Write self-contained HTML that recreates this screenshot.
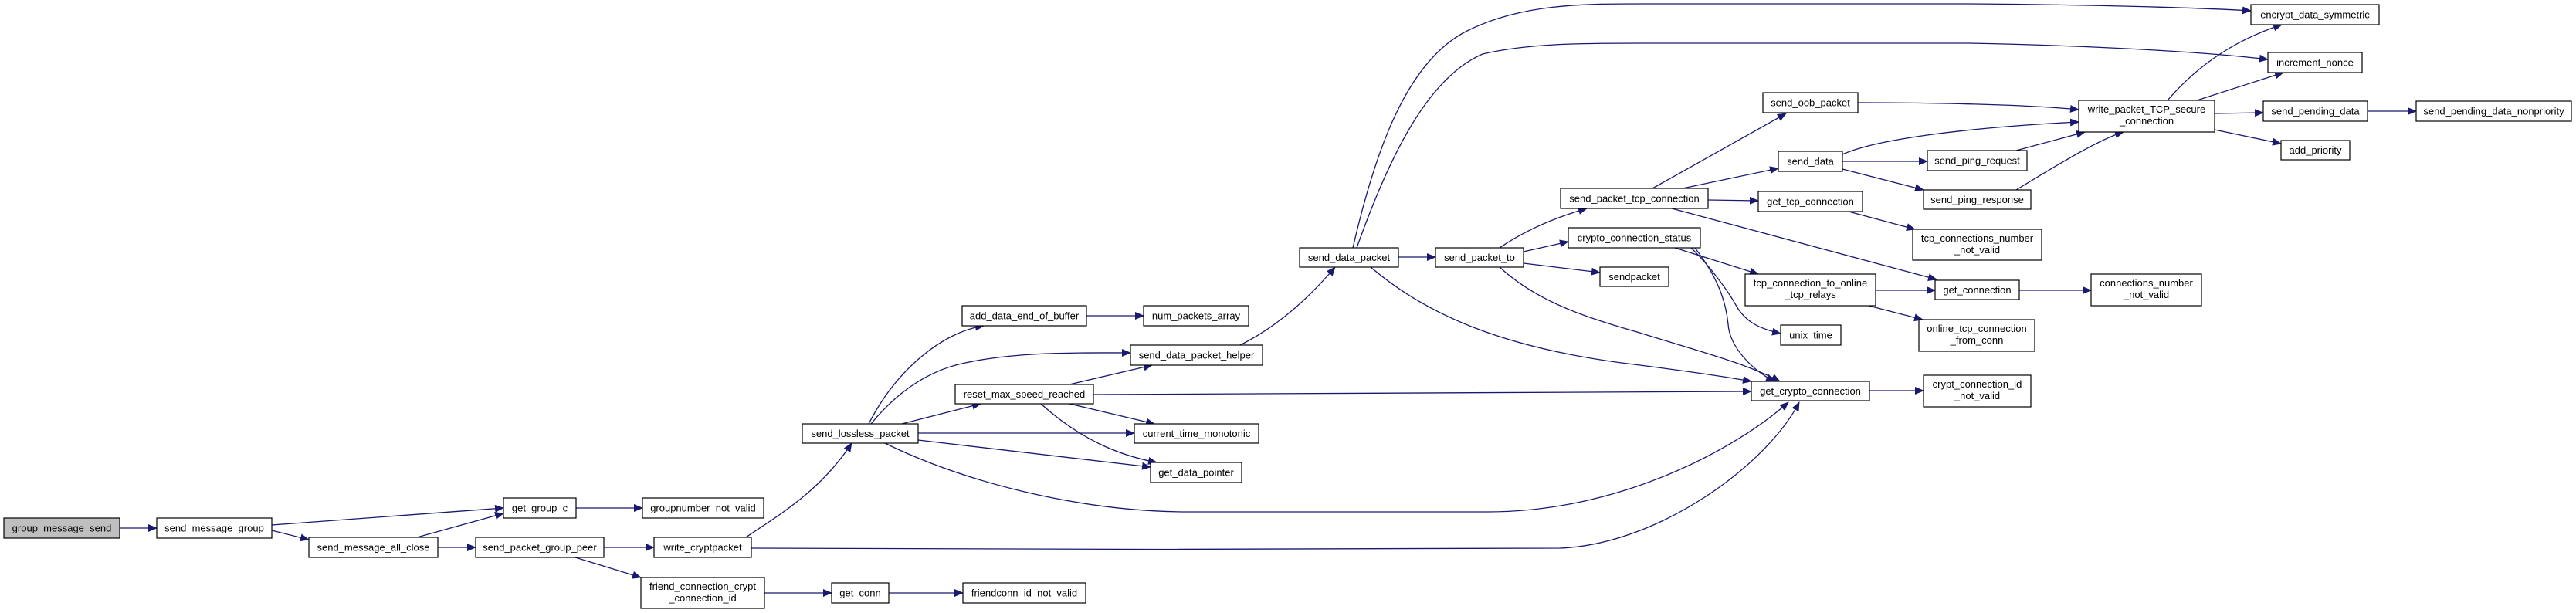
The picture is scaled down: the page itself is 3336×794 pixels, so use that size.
<!DOCTYPE html>
<html><head><meta charset="utf-8"><style>
html,body{margin:0;padding:0;background:#fff;}
svg{display:block;}
text{font-family:"Liberation Sans",Arial,sans-serif;font-size:13px;fill:#000;text-anchor:middle;}
.b{fill:#fff;stroke:#000;stroke-width:1.2;}
.g{fill:#bfbfbf;stroke:#000;stroke-width:1.2;}
.e{fill:none;stroke:#191970;stroke-width:1.3;}
</style></head><body>
<svg width="3336" height="794" viewBox="0 0 3336 794" xmlns="http://www.w3.org/2000/svg">
<defs><marker id="a" markerUnits="userSpaceOnUse" markerWidth="12" markerHeight="10" refX="11" refY="5" orient="auto"><path d="M0,0 L12,5 L0,10 z" fill="#191970"/></marker></defs>
<g class="e" marker-end="url(#a)">
<path d="M155,684 L203,684"/>
<path d="M352,680 L652,658"/>
<path d="M352,687 L400,699"/>
<path d="M540,696 L652,665"/>
<path d="M567,709 L616,709"/>
<path d="M746,658 L832,658"/>
<path d="M782,709 L847,709"/>
<path d="M745,722 L830,748"/>
<path d="M990,768 L1077,768"/>
<path d="M1151,768 L1247,768"/>
<path d="M966,696 C1000,672 1060,640 1103,574"/>
<path d="M973,710 C1100,712 1900,712 2020,710 C2150,705 2290,600 2330,521"/>
<path d="M1146,574 C1250,625 1400,663 1540,663 L1927,663 C2100,663 2250,580 2316,521"/>
<path d="M1125,549 C1160,480 1220,430 1274,422"/>
<path d="M1407,409 L1481,409"/>
<path d="M1128,549 C1160,510 1200,480 1250,470 C1320,455 1400,457 1464,457"/>
<path d="M1168,549 L1270,523"/>
<path d="M1189,561 L1469,561"/>
<path d="M1189,570 L1490,605"/>
<path d="M1385,498 L1492,473"/>
<path d="M1385,523 L1495,549"/>
<path d="M1348,523 C1400,570 1450,590 1498,599"/>
<path d="M1416,511 L2268,507"/>
<path d="M1606,447 C1660,420 1700,380 1729,346"/>
<path d="M1811,333 L1859,333"/>
<path d="M1752,321 C1780,200 1820,80 1900,40 C1970,5 2050,5 2126,5 L2550,5 C2700,6 2850,10 2915,14"/>
<path d="M1757,321 C1800,200 1850,100 1920,70 C1980,56 2050,56 2126,56 L2550,56 C2750,60 2880,70 2937,77"/>
<path d="M1775,346 C1850,410 1950,450 2100,470 C2180,480 2230,487 2268,494"/>
<path d="M1942,321 C1980,295 2020,280 2055,270"/>
<path d="M1973,326 L2031,313"/>
<path d="M1973,341 L2072,353"/>
<path d="M1942,346 C1990,390 2050,410 2120,430 C2200,455 2260,470 2305,494"/>
<path d="M2169,321 L2277,355"/>
<path d="M2190,321 C2215,345 2240,380 2249,397 C2260,415 2275,425 2306,432"/>
<path d="M2195,321 C2225,360 2235,390 2238,420 C2240,450 2270,480 2298,494"/>
<path d="M2140,244 L2313,147"/>
<path d="M2179,244 L2303,218"/>
<path d="M2212,259 L2277,260"/>
<path d="M2165,270 L2508,362"/>
<path d="M2429,376 L2506,376"/>
<path d="M2420,396 L2490,414"/>
<path d="M2615,376 L2708,376"/>
<path d="M2394,274 L2480,297"/>
<path d="M2386,200 C2430,180 2550,165 2692,158"/>
<path d="M2386,209 L2496,209"/>
<path d="M2386,219 L2491,246"/>
<path d="M2611,195 L2700,171"/>
<path d="M2611,246 C2670,210 2720,180 2750,171"/>
<path d="M2406,133 C2500,133 2620,135 2692,142"/>
<path d="M2807,130 C2850,80 2900,50 2955,32"/>
<path d="M2845,130 L2957,94"/>
<path d="M2868,147 L2931,146"/>
<path d="M2868,168 L2954,186"/>
<path d="M3066,144 L3129,144"/>
<path d="M2421,506 L2491,506"/>
</g>
<g>
<rect class="g" x="5" y="671" width="150" height="26"/><text x="80" y="688.5">group_message_send</text>
<rect class="b" x="203" y="671" width="149" height="26"/><text x="277.5" y="688.5">send_message_group</text>
<rect class="b" x="400" y="696" width="167" height="26"/><text x="483.5" y="713.5">send_message_all_close</text>
<rect class="b" x="652" y="645" width="94" height="26"/><text x="699" y="662.5">get_group_c</text>
<rect class="b" x="832" y="645" width="157" height="26"/><text x="910.5" y="662.5">groupnumber_not_valid</text>
<rect class="b" x="616" y="696" width="166" height="26"/><text x="699" y="713.5">send_packet_group_peer</text>
<rect class="b" x="847" y="696" width="126" height="26"/><text x="910" y="713.5">write_cryptpacket</text>
<rect class="b" x="830" y="748" width="160" height="40"/><text x="910" y="764">friend_connection_crypt</text><text x="910" y="779">_connection_id</text>
<rect class="b" x="1077" y="755" width="74" height="26"/><text x="1114" y="772.5">get_conn</text>
<rect class="b" x="1247" y="755" width="159" height="26"/><text x="1326.5" y="772.5">friendconn_id_not_valid</text>
<rect class="b" x="1039" y="549" width="150" height="25"/><text x="1114" y="566">send_lossless_packet</text>
<rect class="b" x="1246" y="396" width="161" height="26"/><text x="1326.5" y="413.5">add_data_end_of_buffer</text>
<rect class="b" x="1481" y="396" width="136" height="26"/><text x="1549" y="413.5">num_packets_array</text>
<rect class="b" x="1464" y="447" width="171" height="26"/><text x="1549.5" y="464.5">send_data_packet_helper</text>
<rect class="b" x="1237" y="498" width="179" height="25"/><text x="1326.5" y="515">reset_max_speed_reached</text>
<rect class="b" x="1469" y="549" width="161" height="25"/><text x="1549.5" y="566">current_time_monotonic</text>
<rect class="b" x="1490" y="599" width="118" height="26"/><text x="1549" y="616.5">get_data_pointer</text>
<rect class="b" x="1683" y="321" width="128" height="25"/><text x="1747" y="338">send_data_packet</text>
<rect class="b" x="1859" y="321" width="114" height="25"/><text x="1916" y="338">send_packet_to</text>
<rect class="b" x="2021" y="244" width="191" height="26"/><text x="2116.5" y="261.5">send_packet_tcp_connection</text>
<rect class="b" x="2031" y="295" width="171" height="26"/><text x="2116.5" y="312.5">crypto_connection_status</text>
<rect class="b" x="2072" y="346" width="89" height="25"/><text x="2116.5" y="363">sendpacket</text>
<rect class="b" x="2915" y="6" width="166" height="26"/><text x="2998" y="23.5">encrypt_data_symmetric</text>
<rect class="b" x="2937" y="68" width="122" height="26"/><text x="2998" y="85.5">increment_nonce</text>
<rect class="b" x="2283" y="120" width="123" height="26"/><text x="2344.5" y="137.5">send_oob_packet</text>
<rect class="b" x="2692" y="130" width="176" height="41"/><text x="2780" y="146">write_packet_TCP_secure</text><text x="2780" y="161">_connection</text>
<rect class="b" x="2931" y="131" width="135" height="26"/><text x="2998.5" y="148.5">send_pending_data</text>
<rect class="b" x="3129" y="131" width="201" height="26"/><text x="3229.5" y="148.5">send_pending_data_nonpriority</text>
<rect class="b" x="2954" y="182" width="89" height="25"/><text x="2998.5" y="199">add_priority</text>
<rect class="b" x="2303" y="196" width="83" height="26"/><text x="2344.5" y="213.5">send_data</text>
<rect class="b" x="2496" y="195" width="129" height="26"/><text x="2560.5" y="212.5">send_ping_request</text>
<rect class="b" x="2491" y="246" width="139" height="25"/><text x="2560.5" y="263">send_ping_response</text>
<rect class="b" x="2277" y="248" width="135" height="26"/><text x="2344.5" y="265.5">get_tcp_connection</text>
<rect class="b" x="2477" y="297" width="167" height="40"/><text x="2560.5" y="313">tcp_connections_number</text><text x="2560.5" y="328">_not_valid</text>
<rect class="b" x="2260" y="355" width="169" height="41"/><text x="2344.5" y="371">tcp_connection_to_online</text><text x="2344.5" y="386">_tcp_relays</text>
<rect class="b" x="2506" y="363" width="109" height="25"/><text x="2560.5" y="380">get_connection</text>
<rect class="b" x="2708" y="355" width="143" height="41"/><text x="2779.5" y="371">connections_number</text><text x="2779.5" y="386">_not_valid</text>
<rect class="b" x="2306" y="421" width="78" height="26"/><text x="2345" y="438.5">unix_time</text>
<rect class="b" x="2485" y="414" width="150" height="41"/><text x="2560" y="430">online_tcp_connection</text><text x="2560" y="445">_from_conn</text>
<rect class="b" x="2268" y="494" width="153" height="25"/><text x="2344.5" y="511">get_crypto_connection</text>
<rect class="b" x="2491" y="486" width="139" height="41"/><text x="2560.5" y="502">crypt_connection_id</text><text x="2560.5" y="517">_not_valid</text>
</g>
</svg>
</body></html>
